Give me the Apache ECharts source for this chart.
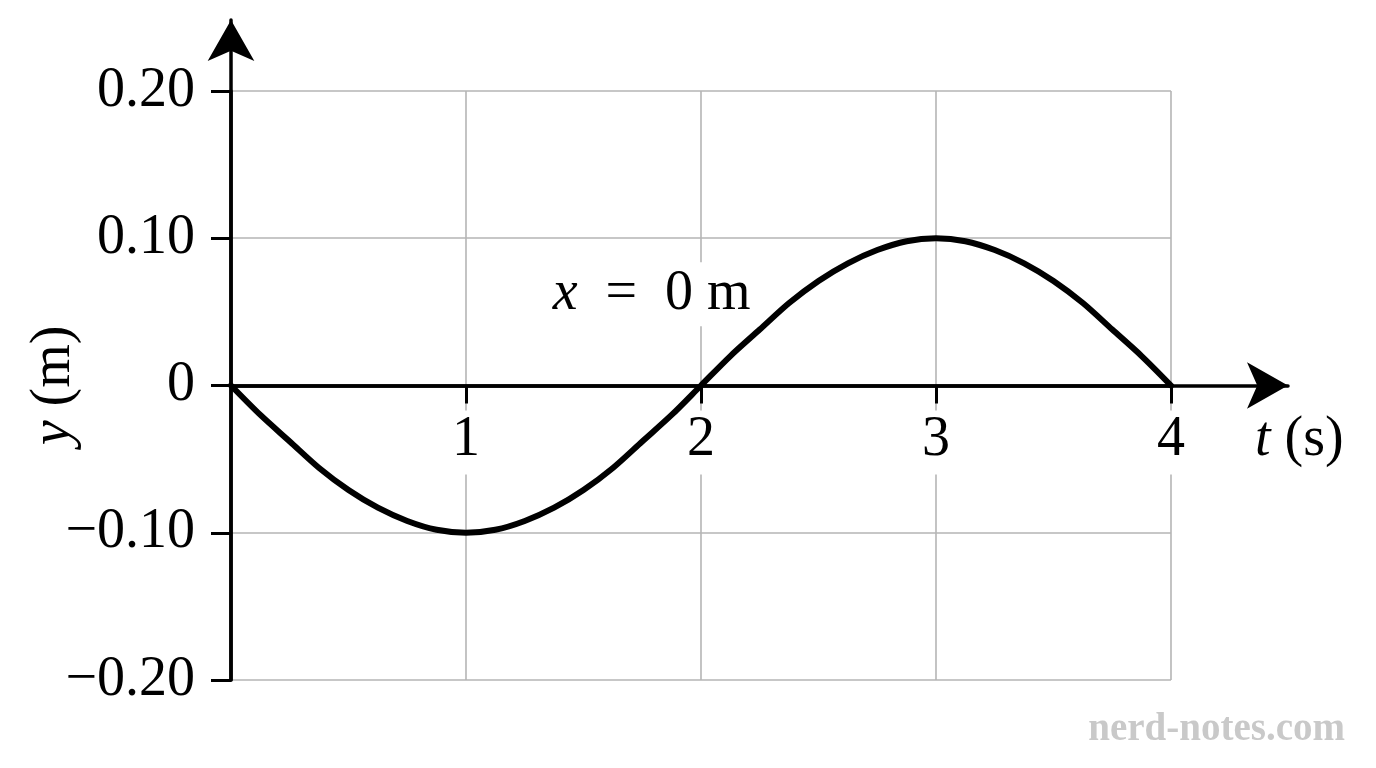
<!DOCTYPE html>
<html>
<head>
<meta charset="utf-8">
<script src="https://cdn.jsdelivr.net/npm/echarts@6/dist/echarts.min.js"></script>
<style>
  html, body { margin:0; padding:0; background:#fff; }
  #chart { width:1376px; height:768px; }
</style>
</head>
<body>
<div id="chart"></div>
<script>
// displacement at x = 0 m
const timeS = [0, 0.125, 0.25, 0.375, 0.5, 0.625, 0.75, 0.875, 1,
               1.125, 1.25, 1.375, 1.5, 1.625, 1.75, 1.875, 2,
               2.125, 2.25, 2.375, 2.5, 2.625, 2.75, 2.875, 3,
               3.125, 3.25, 3.375, 3.5, 3.625, 3.75, 3.875, 4];
const dispM = [0, -0.020, -0.038, -0.056, -0.071, -0.083, -0.092, -0.098, -0.100,
               -0.098, -0.092, -0.083, -0.071, -0.056, -0.038, -0.020, 0,
               0.020, 0.038, 0.056, 0.071, 0.083, 0.092, 0.098, 0.100,
               0.098, 0.092, 0.083, 0.071, 0.056, 0.038, 0.020, 0];

const xTicks = [0, 1, 2, 3, 4];
const xTickLabels = ["", "1", "2", "3", "4"];
const yTicks = [-0.2, -0.1, 0, 0.1, 0.2];
const yTickLabels = ["\u22120.20", "\u22120.10", "0", "0.10", "0.20"];

const curveLabel = {t: 1.79, y: 0.062};

const FONT = "Liberation Serif";
const FS = 56;
const W = 1376, H = 768;
// plot box in pixels
const plot = {left: 231, right: 1171, top: 91, bottom: 680};
const arrowTip = {x: 1288, y: 20};
const arrowSize = [35, 41];

const pxPerX = (plot.right - plot.left) / (xTicks[xTicks.length-1] - xTicks[0]);
const pxPerY = (plot.bottom - plot.top) / (yTicks[yTicks.length-1] - yTicks[0]);
const zeroOffset = (0 - yTicks[0]) * pxPerY;

function yLabel(v){
  const i = yTicks.findIndex(t => Math.abs(t - v) < 1e-9);
  return i < 0 ? "" : yTickLabels[i];
}
function xLabel(v){
  const i = xTicks.findIndex(t => Math.abs(t - v) < 1e-9);
  return i < 0 ? "" : xTickLabels[i];
}

const chart = echarts.init(document.getElementById("chart"));

const grid0 = {left: plot.left, right: W - plot.right, top: plot.top, bottom: H - plot.bottom, outerBoundsMode: "none"};
const grid1 = {left: plot.left, right: W - arrowTip.x, top: arrowTip.y, bottom: H - plot.bottom, outerBoundsMode: "none"};

const axisLineStyle = {color: "#000", width: 3.5};
const gridLine = {show: true, lineStyle: {color: "#b5b5b5", width: 1.6}};
const italic = {fontFamily: FONT, fontSize: FS, fontStyle: "italic", color: "#000"};

chart.setOption({
  animation: false,
  backgroundColor: "#fff",
  title: {
    text: "nerd-notes.com",
    right: 26, bottom: 14,
    textStyle: {fontFamily: FONT, fontSize: 39, fontWeight: "bold", color: "#c9c9c9"}
  },
  grid: [grid0, grid1],
  xAxis: [{
    type: "value", gridIndex: 0, position: "bottom", offset: -zeroOffset,
    min: xTicks[0], max: xTicks[xTicks.length-1], interval: 1,
    axisLine: {show: true, onZero: false, lineStyle: axisLineStyle},
    axisTick: {show: true, length: 18, lineStyle: {color: "#000", width: 3}},
    axisLabel: {
      formatter: xLabel, showMinLabel: false, margin: 25,
      fontFamily: FONT, fontSize: FS, color: "#000",
      backgroundColor: "#fff", padding: [2, 4, 6, 4]
    },
    splitLine: gridLine,
    name: "{i|t} (s)", nameLocation: "end", nameGap: 84, nameMoveOverlap: false,
    nameTextStyle: {
      fontFamily: FONT, fontSize: FS, color: "#000",
      align: "left", verticalAlign: "top", padding: [27, 0, 0, 0],
      rich: {i: italic}
    }
  }, {
    type: "value", gridIndex: 1,
    min: xTicks[0], max: xTicks[0] + (arrowTip.x - plot.left) / pxPerX,
    axisLine: {show: true, onZero: true, symbol: ["none", "arrow"], symbolSize: arrowSize, lineStyle: axisLineStyle},
    axisTick: {show: false}, axisLabel: {show: false}, splitLine: {show: false}
  }],
  yAxis: [{
    type: "value", gridIndex: 0,
    min: yTicks[0], max: yTicks[yTicks.length-1], interval: 0.1,
    axisLine: {show: true, onZero: true, lineStyle: axisLineStyle},
    axisTick: {show: true, length: 20, lineStyle: {color: "#000", width: 3}},
    axisLabel: {formatter: yLabel, margin: 36, fontFamily: FONT, fontSize: FS, color: "#000"},
    splitLine: gridLine,
    name: "{i|y} (m)", nameLocation: "middle", nameGap: 149, nameRotate: 90, nameMoveOverlap: false,
    nameTextStyle: {
      fontFamily: FONT, fontSize: FS, color: "#000",
      rich: {i: italic}
    }
  }, {
    type: "value", gridIndex: 1,
    min: yTicks[0], max: yTicks[yTicks.length-1] + (plot.top - arrowTip.y) / pxPerY,
    axisLine: {show: true, onZero: true, symbol: ["none", "arrow"], symbolSize: arrowSize, lineStyle: axisLineStyle},
    axisTick: {show: false}, axisLabel: {show: false}, splitLine: {show: false}
  }],
  series: [{
    type: "line", xAxisIndex: 0, yAxisIndex: 0,
    data: timeS.map((t, i) => [t, dispM[i]]),
    smooth: 0.3, showSymbol: false, z: 5,
    lineStyle: {color: "#000", width: 6, cap: "round", join: "round"}
  }, {
    type: "scatter", xAxisIndex: 0, yAxisIndex: 0,
    data: [[curveLabel.t, curveLabel.y]],
    symbolSize: 0, z: 4, silent: true,
    itemStyle: {opacity: 1},
    label: {
      show: true, position: "inside", opacity: 1,
      formatter: "{i|x}  =  0 m",
      fontFamily: FONT, fontSize: FS, color: "#000",
      backgroundColor: "#fff", padding: [4, 6],
      rich: {i: italic}
    }
  }]
});
</script>
</body>
</html>
